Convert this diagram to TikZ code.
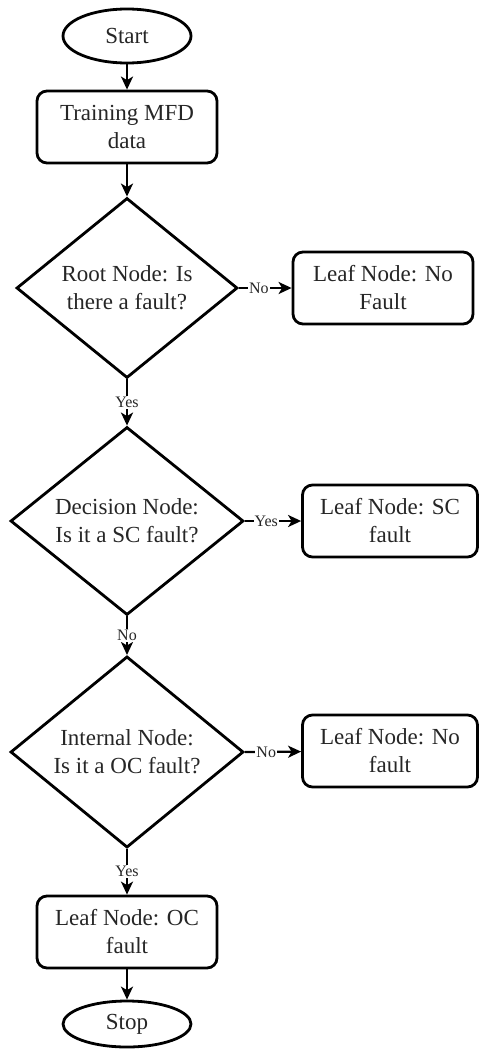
\documentclass[tikz,border=0pt]{standalone}
\usepackage{fontspec}
\setmainfont{Liberation Serif}
\usetikzlibrary{shapes.geometric,arrows.meta}
\begin{document}
\begin{tikzpicture}[x=1pt,y=-1pt,
  base/.style={draw=black,line width=2.8pt,align=center,inner sep=2pt,
    font=\fontsize{23}{28}\selectfont,text=black!85},
  terminal/.style={base,ellipse,minimum width=128pt,minimum height=54pt},
  process/.style={base,rectangle,rounded corners=10pt,minimum width=180pt,minimum height=72pt},
  decision/.style={base,diamond,inner sep=0pt,minimum width=228pt,minimum height=181pt},
  flow/.style={draw=black,line width=2.2pt,-{Stealth[length=13pt,width=12pt,inset=3.5pt]}},
  tag/.style={fill=white,inner sep=1pt,font=\fontsize{16}{18}\selectfont,text=black!85}]
\useasboundingbox (0,0) rectangle (480,1049);

% main column
\node[terminal] (start) at (127,36) {Start};
\node[process]  (train) at (127,127) {Training MFD\\data};
\node[decision,minimum width=221pt,minimum height=180pt] (root) at (127,288) {Root Node: Is\\there a fault?};
\node[decision,minimum width=233pt,minimum height=182pt] (dec) at (127,521) {Decision Node:\\Is it a SC fault?};
\node[decision,minimum width=233pt,minimum height=180pt] (int) at (127,752) {Internal Node:\\Is it a OC fault?};
\node[process]  (leafoc) at (127,932) {Leaf Node: OC\\fault};
\node[terminal,minimum height=46pt] (stop) at (127,1024) {Stop};

% side leaves
\node[process] (leafnf) at (383,288) {Leaf Node: No\\Fault};
\node[process,minimum width=175pt] (leafsc) at (390,521) {Leaf Node: SC\\fault};
\node[process,minimum width=175pt] (leafno) at (390,751) {Leaf Node: No\\fault};

% connectors
\draw[flow] (start) -- (train);
\draw[flow] (train) -- (root);
\draw[flow] (root) -- node[tag]{Yes} (dec);
\draw[flow] (dec) -- node[tag]{No} (int);
\draw[flow] (int) -- node[tag]{Yes} (leafoc);
\draw[flow] (leafoc) -- (stop);
\draw[flow] (root.east) -- node[tag,pos=0.38]{No} (leafnf);
\draw[flow] (dec.east) -- node[tag,pos=0.38]{Yes} (leafsc);
\draw[flow] (int.east) -- node[tag,pos=0.38]{No} (leafno);
\end{tikzpicture}
\end{document}
